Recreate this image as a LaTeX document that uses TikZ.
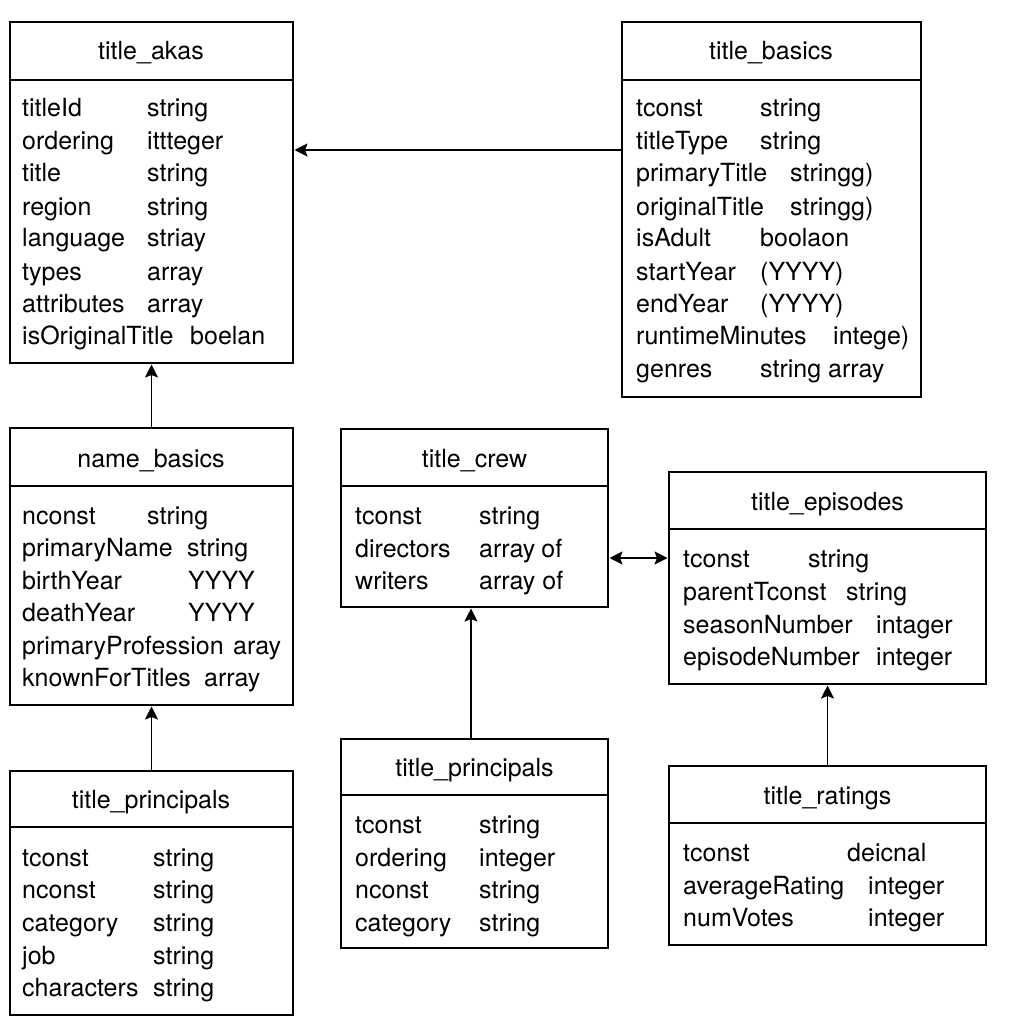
\documentclass[tikz,border=0pt]{standalone}
\usepackage{fontspec}
\setmainfont{TeX Gyre Heros}
\usetikzlibrary{arrows.meta}
\begin{document}
\begin{tikzpicture}[x=1pt,y=-1pt,
  tbl/.style={draw, line width=1.5pt, anchor=north west, inner sep=0pt, outer sep=0pt},
  hdr/.style={line width=1.2pt},
  ttl/.style={anchor=base, inner sep=0pt, font=\fontsize{25}{30}\selectfont},
  fld/.style={anchor=base west, inner sep=0pt, font=\fontsize{25}{30}\selectfont},
  tip/.tip={Stealth[length=13pt,width=13pt,inset=2.5pt]},
  conn/.style={line width=1.8pt, -tip, shorten >=1.5pt},
]
\fill[white] (0,0) rectangle (1024,1024);
\useasboundingbox (0,0) rectangle (1024,1024);

% ---------- title_akas ----------
\node[tbl, minimum width=283pt, minimum height=341pt] (akas) at (10,22) {};
\draw[hdr] ([yshift=-58pt]akas.north west) -- ([yshift=-58pt]akas.north east);
\node[ttl] (akasT) at (151,60) {title\_akas};
\node[fld] (a1) at (22,117) {titleId};        \node[fld] (a1t) at (147,117) {string};
\node[fld] (a2) at (22,150) {ordering};       \node[fld] (a2t) at (147,150) {ittteger};
\node[fld] (a3) at (22,182) {title};          \node[fld] (a3t) at (147,182) {string};
\node[fld] (a4) at (22,215) {region};         \node[fld] (a4t) at (147,215) {string};
\node[fld] (a5) at (22,247) {language};       \node[fld] (a5t) at (147,247) {striay};
\node[fld] (a6) at (22,280) {types};          \node[fld] (a6t) at (147,280) {array};
\node[fld] (a7) at (22,312) {attributes};     \node[fld] (a7t) at (147,312) {array};
\node[fld] (a8) at (22,344) {isOriginalTitle};\node[fld] (a8t) at (190,344) {boelan};

% ---------- title_basics ----------
\node[tbl, minimum width=299pt, minimum height=375pt] (basics) at (622,22) {};
\draw[hdr] ([yshift=-58pt]basics.north west) -- ([yshift=-58pt]basics.north east);
\node[ttl] (basicsT) at (771,60) {title\_basics};
\node[fld] (b1) at (636,117) {tconst};         \node[fld] (b1t) at (760,117) {string};
\node[fld] (b2) at (636,150) {titleType};      \node[fld] (b2t) at (760,150) {string};
\node[fld] (b3) at (636,182) {primaryTitle};   \node[fld] (b3t) at (790,182) {stringg)};
\node[fld] (b4) at (636,215) {originalTitle};  \node[fld] (b4t) at (790,215) {stringg)};
\node[fld] (b5) at (636,247) {isAdult};        \node[fld] (b5t) at (760,247) {boolaon};
\node[fld] (b6) at (636,280) {startYear};      \node[fld] (b6t) at (760,280) {(YYYY)};
\node[fld] (b7) at (636,312) {endYear};        \node[fld] (b7t) at (760,312) {(YYYY)};
\node[fld] (b8) at (636,344) {runtimeMinutes}; \node[fld] (b8t) at (833,344) {intege)};
\node[fld] (b9) at (636,377) {genres};         \node[fld] (b9t) at (760,377) {string array};

% ---------- name_basics ----------
\node[tbl, minimum width=283pt, minimum height=277pt] (nameb) at (10,428) {};
\draw[hdr] ([yshift=-58pt]nameb.north west) -- ([yshift=-58pt]nameb.north east);
\node[ttl] (namebT) at (151,467) {name\_basics};
\node[fld] (n1) at (22,524) {nconst};            \node[fld] (n1t) at (147,524) {string};
\node[fld] (n2) at (22,556) {primaryName};       \node[fld] (n2t) at (187,556) {string};
\node[fld] (n3) at (22,589) {birthYear};         \node[fld] (n3t) at (188,589) {YYYY};
\node[fld] (n4) at (22,621) {deathYear};         \node[fld] (n4t) at (188,621) {YYYY};
\node[fld] (n5) at (22,654) {primaryProfession}; \node[fld] (n5t) at (233,654) {aray};
\node[fld] (n6) at (22,686) {knownForTitles};    \node[fld] (n6t) at (204,686) {array};

% ---------- title_principals (left) ----------
\node[tbl, minimum width=283pt, minimum height=244pt] (princL) at (10,771) {};
\draw[hdr] ([yshift=-56pt]princL.north west) -- ([yshift=-56pt]princL.north east);
\node[ttl] (princLT) at (151,808) {title\_principals};
\node[fld] (p1) at (22,866) {tconst};     \node[fld] (p1t) at (153,866) {string};
\node[fld] (p2) at (22,898) {nconst};     \node[fld] (p2t) at (153,898) {string};
\node[fld] (p3) at (22,931) {category};   \node[fld] (p3t) at (153,931) {string};
\node[fld] (p4) at (22,964) {job};        \node[fld] (p4t) at (153,964) {string};
\node[fld] (p5) at (22,996) {characters}; \node[fld] (p5t) at (153,996) {string};

% ---------- title_crew ----------
\node[tbl, minimum width=267pt, minimum height=178pt] (crew) at (341,429) {};
\draw[hdr] ([yshift=-57pt]crew.north west) -- ([yshift=-57pt]crew.north east);
\node[ttl] (crewT) at (474.5,467) {title\_crew};
\node[fld] (c1) at (355,524) {tconst};    \node[fld] (c1t) at (479,524) {string};
\node[fld] (c2) at (355,557) {directors}; \node[fld] (c2t) at (479,557) {array\hspace{6pt}of};
\node[fld] (c3) at (355,589) {writers};   \node[fld] (c3t) at (479,589) {array of};

% ---------- title_episodes ----------
\node[tbl, minimum width=317pt, minimum height=212pt] (epis) at (669,472) {};
\draw[hdr] ([yshift=-57pt]epis.north west) -- ([yshift=-57pt]epis.north east);
\node[ttl] (episT) at (827.5,510) {title\_episodes};
\node[fld] (e1) at (683,567) {tconst};        \node[fld] (e1t) at (808,567) {string};
\node[fld] (e2) at (683,600) {parentTconst};  \node[fld] (e2t) at (846,600) {string};
\node[fld] (e3) at (683,633) {seasonNumber};  \node[fld] (e3t) at (876,633) {intager};
\node[fld] (e4) at (683,665) {episodeNumber}; \node[fld] (e4t) at (876,665) {integer};

% ---------- title_principals (middle) ----------
\node[tbl, minimum width=267pt, minimum height=209pt] (princM) at (341,739) {};
\draw[hdr] ([yshift=-56pt]princM.north west) -- ([yshift=-56pt]princM.north east);
\node[ttl] (princMT) at (474.5,776) {title\_principals};
\node[fld] (m1) at (355,833) {tconst};   \node[fld] (m1t) at (479,833) {string};
\node[fld] (m2) at (355,866) {ordering}; \node[fld] (m2t) at (479,866) {integer};
\node[fld] (m3) at (355,898) {nconst};   \node[fld] (m3t) at (479,898) {string};
\node[fld] (m4) at (355,931) {category}; \node[fld] (m4t) at (479,931) {string};

% ---------- title_ratings ----------
\node[tbl, minimum width=317pt, minimum height=179pt] (ratings) at (669,766) {};
\draw[hdr] ([yshift=-57pt]ratings.north west) -- ([yshift=-57pt]ratings.north east);
\node[ttl] (ratingsT) at (827.5,804) {title\_ratings};
\node[fld] (r1) at (683,861) {tconst};        \node[fld] (r1t) at (847,861) {deicnal};
\node[fld] (r2) at (683,894) {averageRating}; \node[fld] (r2t) at (868,894) {integer};
\node[fld] (r3) at (683,926) {numVotes};      \node[fld] (r3t) at (868,926) {integer};

% ---------- connectors ----------
\coordinate (yab) at (0,150);
\coordinate (yce) at (0,558);
\coordinate (xm) at (471,0);
\draw[conn] (basics.west |- yab) -- (akas.east |- yab);
\draw[conn] (nameb.north) -- (akas.south);
\draw[conn] (princL.north) -- (nameb.south);
\draw[conn] (princM.north -| xm) -- (crew.south -| xm);
\draw[line width=1.8pt, tip-tip, shorten >=1.5pt, shorten <=1.5pt] (crew.east |- yce) -- (epis.west |- yce);
\draw[conn] (ratings.north) -- (epis.south);
\end{tikzpicture}
\end{document}
